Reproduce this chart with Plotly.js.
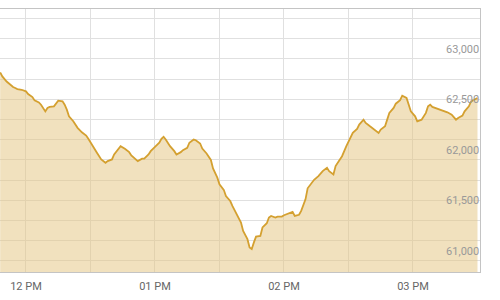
<!DOCTYPE html>
<html>
<head>
<meta charset="utf-8">
<script src="https://cdn.plot.ly/plotly-3.0.1.min.js"></script>
<style>html,body{margin:0;padding:0;background:#fff;}#chart{width:500px;height:300px;}</style>
</head>
<body>
<div id="chart"></div>
<script>
const day = "2024-01-02 ";
const times = [
"11:48","11:49","11:51","11:53","11:54","11:55","11:56","11:58","12:00","12:01",
"12:03","12:04","12:06","12:07","12:09","12:10","12:11","12:13","12:14","12:15",
"12:17","12:18","12:19","12:20","12:22","12:24","12:26","12:28","12:29","12:31",
"12:33","12:35","12:37","12:38","12:40","12:41","12:43","12:44","12:46","12:48",
"12:49","12:51","12:52","12:54","12:55","12:57","12:58","13:00","13:02","13:03",
"13:04","13:05","13:07","13:09","13:10","13:12","13:13","13:15","13:16","13:18",
"13:19","13:21","13:22","13:24","13:26","13:27","13:29","13:30","13:32","13:33",
"13:35","13:36","13:38","13:40","13:41","13:43","13:44","13:45","13:46","13:47",
"13:49","13:50","13:52","13:53","13:54","13:56","13:57","13:59","14:00","14:02",
"14:04","14:05","14:07","14:08","14:10","14:11","14:13","14:14","14:16","14:18",
"14:20","14:21","14:23","14:24","14:26","14:27","14:29","14:31","14:32","14:34",
"14:35","14:37","14:38","14:40","14:42","14:44","14:45","14:47","14:48","14:49",
"14:51","14:52","14:54","14:55","14:57","14:58","14:59","15:01","15:02","15:04",
"15:06","15:07","15:08","15:09","15:12","15:14","15:16","15:18","15:20","15:21",
"15:23","15:24","15:26","15:27","15:29","15:30"
];
const values = [
62766,62727,62677,62635,62622,62612,62602,62595,62579,62553,
62523,62490,62470,62447,62381,62415,62425,62431,62464,62487,
62480,62447,62398,62332,62283,62218,62174,62142,62109,62036,
61971,61905,61872,61888,61905,61954,62003,62036,62010,61977,
61944,61912,61888,61912,61912,61954,61987,62030,62070,62109,
62129,62102,62036,61987,61954,61977,61997,62020,62070,62102,
62095,62063,62013,61964,61900,61816,61724,61658,61604,61543,
61493,61444,61362,61280,61197,61115,61034,61017,61083,61140,
61148,61231,61273,61330,61345,61330,61339,61339,61352,61372,
61385,61345,61357,61395,61510,61619,61668,61703,61740,61789,
61823,61789,61757,61839,61905,61937,62036,62119,62168,62208,
62250,62299,62267,62233,62201,62168,62201,62233,62299,62366,
62415,62457,62492,62536,62514,62447,62381,62332,62283,62299,
62366,62431,62447,62425,62405,62391,62372,62349,62299,62316,
62339,62381,62431,62480,62504,62514
];
const yTickVals = [61000, 61500, 62000, 62500, 63000];
const xTickVals = ["12:00", "13:00", "14:00", "15:00"];
const xTickText = ["12 PM", "01 PM", "02 PM", "03 PM"];

const trace = {
  x: times.map(t => day + t),
  y: values,
  type: "scatter",
  mode: "lines",
  fill: "tozeroy",
  fillcolor: "rgba(228,196,125,0.5)",
  line: {color: "rgb(212,160,48)", width: 1.8},
  hoverinfo: "skip"
};

const layout = {
  width: 500, height: 300,
  margin: {l: 0, r: 20, t: 9, b: 28, pad: 0},
  paper_bgcolor: "#fff", plot_bgcolor: "#fff",
  showlegend: false,
  font: {family: "Roboto, 'Liberation Sans', Arial, sans-serif", size: 11, color: "#666"},
  xaxis: {
    type: "date",
    range: [day + "11:47:55", day + "15:31:10"],
    tickvals: xTickVals.map(t => day + t),
    ticktext: xTickText,
    showgrid: false,
    ticks: "",
    ticklabelstandoff: 4,
    showline: true, linecolor: "#c4c4c4", linewidth: 1, mirror: true,
    tickfont: {size: 11, color: "#666"},
    minor: {dtick: 1800000, tick0: day + "12:00", showgrid: true, gridcolor: "#e0e0e0", gridwidth: 1},
    zeroline: false
  },
  yaxis: {
    side: "right",
    range: [60790, 63395],
    tickvals: yTickVals,
    tickformat: ",d",
    ticklabelposition: "inside",
    ticks: "",
    showgrid: false,
    showline: true, linecolor: "#c4c4c4", linewidth: 1,
    tickfont: {size: 11, color: "#999"},
    minor: {tick0: 60900, dtick: 200, showgrid: true, gridcolor: "#e0e0e0", gridwidth: 1},
    zeroline: false
  }
};

Plotly.newPlot("chart", [trace], layout, {staticPlot: true, displayModeBar: false});
</script>
</body>
</html>
